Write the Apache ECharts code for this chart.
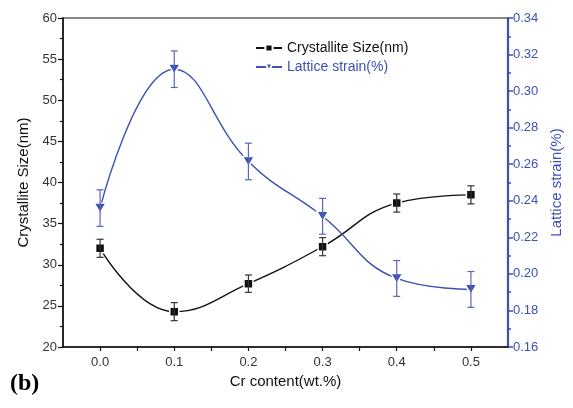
<!DOCTYPE html>
<html>
<head>
<meta charset="utf-8">
<script src="https://cdn.jsdelivr.net/npm/echarts@6/dist/echarts.min.js"></script>
<style>
  html, body { margin: 0; padding: 0; background: #fff; }
  #chart { width: 573px; height: 408px; }
</style>
</head>
<body>
<div id="chart"></div>
<script>
// Cr content (wt.%) for each sample
const crContent = [0.0, 0.1, 0.2, 0.3, 0.4, 0.5];
// Crystallite size (nm) and its error
const crystalliteSize = [32.0, 24.3, 27.7, 32.2, 37.5, 38.5];
const crystalliteErr = [1.1, 1.1, 1.05, 1.1, 1.1, 1.1];
// Lattice strain (%) and its error
const latticeStrain = [0.236, 0.312, 0.2615, 0.2315, 0.1975, 0.1915];
const latticeErr = [0.010, 0.010, 0.010, 0.0098, 0.0098, 0.0098];
// Axis tick labels
const xTickLabels = [0.0, 0.1, 0.2, 0.3, 0.4, 0.5];
const xTickMarks = [0.0, 0.05, 0.1, 0.15, 0.2, 0.25, 0.3, 0.35, 0.4, 0.45, 0.5];

const BLACK = '#111';
const BLUE = '#3e50b4';
const FONT = '"Liberation Sans", Arial, sans-serif';

const sizePairs = crContent.map((x, i) => [x, crystalliteSize[i]]);
const strainPairs = crContent.map((x, i) => [x, latticeStrain[i]]);
const sizeErrData = crContent.map((x, i) => [x, crystalliteSize[i], crystalliteErr[i]]);
const strainErrData = crContent.map((x, i) => [x, latticeStrain[i], latticeErr[i]]);

function errorBar(color) {
  return function (params, api) {
    const x = api.value(0), y = api.value(1), e = api.value(2);
    const lo = api.coord([x, y - e]);
    const hi = api.coord([x, y + e]);
    const cap = 3.5;
    const style = { stroke: color, lineWidth: 1.2, fill: null };
    return {
      type: 'group',
      children: [
        { type: 'line', shape: { x1: lo[0], y1: lo[1], x2: hi[0], y2: hi[1] }, style },
        { type: 'line', shape: { x1: lo[0] - cap, y1: lo[1], x2: lo[0] + cap, y2: lo[1] }, style },
        { type: 'line', shape: { x1: hi[0] - cap, y1: hi[1], x2: hi[0] + cap, y2: hi[1] }, style }
      ]
    };
  };
}

const chart = echarts.init(document.getElementById('chart'), null, { renderer: 'canvas' });
chart.setOption({
  animation: false,
  backgroundColor: '#fff',
  grid: {
    left: 63, right: 65, top: 18, bottom: 61,
    show: true, borderColor: BLACK, borderWidth: 1.2, backgroundColor: 'transparent'
  },
  legend: {
    orient: 'vertical',
    left: 250, top: 36,
    itemWidth: 26, itemHeight: 9, itemGap: 5,
    textStyle: { fontFamily: FONT, fontSize: 14 },
    data: [
      { name: 'Crystallite Size(nm)', textStyle: { color: BLACK } },
      { name: 'Lattice strain(%)', textStyle: { color: BLUE } }
    ]
  },
  xAxis: {
    type: 'value',
    min: -0.05, max: 0.55,
    name: 'Cr content(wt.%)',
    nameLocation: 'middle', nameGap: 27,
    nameTextStyle: { fontFamily: FONT, fontSize: 15, color: BLACK },
    axisLine: { show: true, onZero: false, lineStyle: { color: BLACK, width: 1.5 } },
    axisTick: { show: true, inside: false, length: 4, customValues: xTickMarks, lineStyle: { color: BLACK, width: 1.2 } },
    axisLabel: {
      customValues: xTickLabels, margin: 9,
      fontFamily: FONT, fontSize: 13, color: '#333',
      formatter: v => Number(v).toFixed(1)
    },
    splitLine: { show: false }
  },
  yAxis: [
    {
      type: 'value', position: 'left',
      min: 20, max: 60, interval: 5,
      name: 'Crystallite Size(nm)',
      nameLocation: 'middle', nameGap: 32, nameRotate: 90,
      nameTextStyle: { fontFamily: FONT, fontSize: 15, color: BLACK },
      axisLine: { show: true, onZero: false, lineStyle: { color: BLACK, width: 1.5 } },
      axisTick: { show: true, inside: false, length: 5, lineStyle: { color: BLACK, width: 1.2 } },
      minorTick: { show: true, splitNumber: 2, length: 3, lineStyle: { color: BLACK, width: 1.2 } },
      axisLabel: { fontFamily: FONT, fontSize: 13, color: '#333', margin: 6 },
      splitLine: { show: false }
    },
    {
      type: 'value', position: 'right',
      min: 0.16, max: 0.34, interval: 0.02,
      name: 'Lattice strain(%)',
      nameLocation: 'middle', nameGap: 40, nameRotate: 90,
      nameTextStyle: { fontFamily: FONT, fontSize: 15, color: BLUE },
      axisLine: { show: true, onZero: false, lineStyle: { color: BLUE, width: 2.2 } },
      axisTick: { show: true, inside: false, length: 5, lineStyle: { color: BLUE, width: 1.5 } },
      minorTick: { show: true, splitNumber: 2, length: 3, lineStyle: { color: BLUE, width: 1.5 } },
      axisLabel: { fontFamily: FONT, fontSize: 13, color: BLUE, margin: 5, formatter: v => Number(v).toFixed(2) },
      splitLine: { show: false }
    }
  ],
  series: [
    {
      name: 'Crystallite Size(nm)',
      type: 'line', yAxisIndex: 0,
      data: sizePairs,
      smooth: 0.45,
      symbol: 'rect', symbolSize: 9,
      lineStyle: { color: BLACK, width: 1.4 },
      itemStyle: { color: BLACK, borderColor: '#fff', borderWidth: 1.5 },
      z: 3
    },
    {
      name: 'Lattice strain(%)',
      type: 'line', yAxisIndex: 1,
      data: strainPairs,
      smooth: 0.45,
      symbol: 'triangle', symbolRotate: 180, symbolSize: [12, 10],
      lineStyle: { color: BLUE, width: 1.4 },
      itemStyle: { color: BLUE, borderColor: '#fff', borderWidth: 1.5 },
      z: 3
    },
    {
      type: 'custom', yAxisIndex: 0,
      data: sizeErrData,
      renderItem: errorBar('#333'),
      z: 4, silent: true
    },
    {
      type: 'custom', yAxisIndex: 1,
      data: strainErrData,
      renderItem: errorBar('#5666c0'),
      z: 4, silent: true
    }
  ],
  graphic: [
    {
      type: 'text', left: 10, top: 372,
      style: { text: '(b)', fontFamily: '"Liberation Serif", "Times New Roman", serif', fontSize: 24, fontWeight: 'bold', fill: '#000' }
    }
  ]
});
</script>
</body>
</html>
